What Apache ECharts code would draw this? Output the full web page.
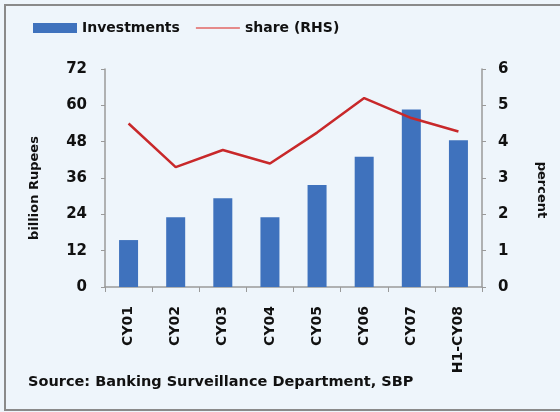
<!DOCTYPE html>
<html>
<head>
<meta charset="utf-8">
<script src="https://cdn.jsdelivr.net/npm/echarts@6/dist/echarts.min.js"></script>
<style>
  html, body { margin: 0; padding: 0; background: #eef5fb; }
  #show { width: 560px; height: 412px; }
</style>
</head>
<body>
<div id="show"></div>
<script>
var myChart = echarts.init(document.getElementById("show"));

var periods = ["CY01", "CY02", "CY03", "CY04", "CY05", "CY06", "CY07", "H1-CY08"];
var investments = [15.5, 23, 29.3, 23, 33.7, 43, 58.6, 48.5];
var share = [4.5, 3.3, 3.77, 3.4, 4.25, 5.2, 4.65, 4.28];
var leftTicks = [0, 72, 12];
var rightTicks = [0, 6, 1];

var txt = '#111';
var font = 'DejaVu Sans';

myChart.setOption(option = {
    backgroundColor: '#eef5fb',
    animation: false,
    legend: {
        left: 28,
        top: 16,
        itemWidth: 44,
        itemHeight: 10,
        itemGap: 16,
        textStyle: { fontFamily: font, fontWeight: 'bold', fontSize: 14, color: txt },
        data: [
            { name: 'Investments', icon: 'rect' },
            { name: 'share (RHS)', icon: 'path://M0,0 L44,0 L44,2 L0,2 Z', itemStyle: { color: '#e58a8a' } }
        ]
    },
    grid: { left: 105, right: 78, top: 69, bottom: 125 },
    xAxis: {
        type: 'category',
        data: periods,
        axisLine: { lineStyle: { color: '#9a9a9a', width: 1.5 } },
        axisTick: { show: true, length: 5, lineStyle: { color: '#9a9a9a' } },
        axisLabel: {
            rotate: 90, margin: 19, interval: 0,
            fontFamily: font, fontWeight: 'bold', fontSize: 14, color: txt
        }
    },
    yAxis: [
        {
            type: 'value',
            min: leftTicks[0], max: leftTicks[1], interval: leftTicks[2],
            name: 'billion Rupees',
            nameLocation: 'middle',
            nameGap: 64,
            nameTextStyle: { fontFamily: font, fontWeight: 'bold', fontSize: 13, color: txt, padding: [0, 0, 0, -20] },
            axisLine: { show: true, lineStyle: { color: '#9a9a9a', width: 1.5 } },
            axisTick: { show: true, length: 4, lineStyle: { color: '#9a9a9a' } },
            splitLine: { show: false },
            axisLabel: { margin: 18, fontFamily: font, fontWeight: 'bold', fontSize: 15, color: txt }
        },
        {
            type: 'value',
            min: rightTicks[0], max: rightTicks[1], interval: rightTicks[2],
            name: 'percent',
            nameLocation: 'middle',
            nameGap: 53,
            nameRotate: -90,
            nameTextStyle: { fontFamily: font, fontWeight: 'bold', fontSize: 13, color: txt, padding: [0, 0, 0, 24] },
            axisLine: { show: true, lineStyle: { color: '#9a9a9a', width: 1.5 } },
            axisTick: { show: true, length: 4, lineStyle: { color: '#9a9a9a' } },
            splitLine: { show: false },
            axisLabel: { margin: 16, fontFamily: font, fontWeight: 'bold', fontSize: 15, color: txt }
        }
    ],
    series: [
        {
            name: 'Investments',
            type: 'bar',
            data: investments,
            barWidth: 19,
            itemStyle: { color: '#3f72bd' }
        },
        {
            name: 'share (RHS)',
            type: 'line',
            yAxisIndex: 1,
            data: share,
            symbol: 'none',
            lineStyle: { color: '#c8282a', width: 2.5 },
            itemStyle: { color: '#c8282a' }
        }
    ],
    graphic: [
        {
            type: 'text',
            left: 28,
            top: 375,
            style: {
                text: 'Source: Banking Surveillance Department, SBP',
                fontFamily: font, fontWeight: 'bold', fontSize: 14.5, fill: txt
            }
        },
        {
            type: 'rect',
            shape: { x: 5, y: 5, width: 620, height: 405 },
            style: { fill: 'none', stroke: '#8a8a8a', lineWidth: 2 },
            silent: true
        }
    ]
});
</script>
</body>
</html>
